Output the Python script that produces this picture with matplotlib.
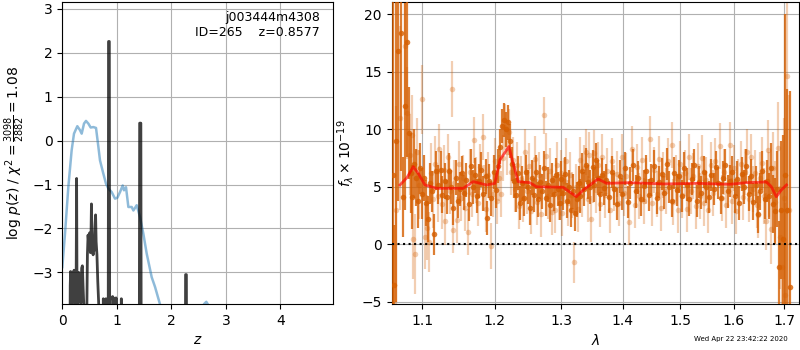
import matplotlib
matplotlib.use("Agg")
import matplotlib.pyplot as plt
from matplotlib.ticker import ScalarFormatter, NullLocator, NullFormatter, FixedLocator

# ---------------- p(z) panel data ----------------
prior_z = [0.0, 0.049, 0.110, 0.171, 0.214, 0.275, 0.324, 0.355, 0.398, 0.434, 0.477, 0.520,
           0.569, 0.618, 0.661, 0.691, 0.752, 0.801, 0.844, 0.905, 0.966, 1.009, 1.058, 1.107,
           1.131, 1.168, 1.211, 1.272, 1.303, 1.364, 1.425, 1.486, 1.547, 1.639, 1.700, 1.792,
           1.90, 2.10, 2.35, 2.50, 2.60, 2.64, 2.68, 2.75, 3.0, 4.0, 5.0]
prior_logp = [-2.88, -2.12, -1.06, -0.22, 0.16, 0.33, 0.24, 0.16, 0.39, 0.45, 0.39, 0.30,
              0.31, 0.29, -0.14, -0.45, -0.75, -0.98, -1.09, -1.17, -1.32, -1.30, -1.17, -1.02,
              -1.13, -1.06, -1.51, -1.51, -1.59, -1.47, -1.74, -2.12, -2.57, -3.11, -3.33, -3.73,
              -4.2, -4.5, -4.2, -3.95, -3.72, -3.67, -3.75, -4.0, -4.6, -5.5, -6.0]

pz_z = [0.00, 0.13, 0.145, 0.152, 0.16, 0.17, 0.18, 0.19, 0.20, 0.215, 0.228, 0.24, 0.252,
        0.262, 0.270, 0.285, 0.30, 0.31, 0.325, 0.34, 0.355, 0.368, 0.38, 0.395, 0.43,
        0.45, 0.46, 0.472, 0.485, 0.50, 0.515, 0.527, 0.534, 0.545, 0.555, 0.565, 0.575,
        0.585, 0.60, 0.61, 0.62, 0.635, 0.65, 0.67, 0.70, 0.745, 0.752, 0.758, 0.79, 0.80,
        0.808, 0.84, 0.848, 0.862, 0.87, 0.915, 0.922, 0.93, 0.94, 0.95, 0.98, 0.985, 0.992,
        1.075, 1.082, 1.09, 1.41, 1.418, 1.440, 1.448, 2.255, 2.26, 2.275, 2.28, 5.0]
pz_logp = [-8, -8, -3.3, -2.98, -3.6, -3.0, -3.7, -3.2, -3.65, -2.95, -3.7, -3.4, -3.7,
           -0.86, -3.7, -3.8, -3.0, -3.6, -3.3, -3.7, -2.9, -2.85, -3.3, -3.8, -6,
           -3.8, -2.6, -2.15, -2.35, -2.1, -2.55, -2.05, -1.44, -2.25, -2.45, -2.6, -2.2,
           -2.5, -1.95, -1.69, -2.3, -2.6, -3.2, -3.8, -6, -6, -3.6, -6, -6, -3.6,
           -6, -6, 2.26, 2.26, -6, -6, -3.55, -3.62, -3.58, -6, -6, -3.58, -6,
           -6, -3.6, -6, -6, 0.40, 0.40, -6, -6, -3.05, -3.05, -6, -6]

# ---------------- spectrum panel data ----------------
dark_lam = [1.0615, 1.0630, 1.0660, 1.0688, 1.0722, 1.0745, 1.0775, 1.0796, 1.0826, 1.0850,
            1.0869, 1.0895, 1.0920, 1.0945, 1.0970, 1.0995, 1.1020, 1.1050, 1.1080, 1.1105,
            1.1125, 1.1160, 1.1190, 1.1215, 1.1245, 1.1270, 1.1300, 1.1330, 1.1360, 1.1390,
            1.1420, 1.1450, 1.1480, 1.1510, 1.1540, 1.1570, 1.1600, 1.1630, 1.1660, 1.1690,
            1.1720, 1.1750, 1.1780, 1.1810, 1.1840, 1.1870, 1.1897, 1.1925, 1.1955, 1.1985,
            1.2015, 1.2045, 1.2075, 1.2105, 1.2135, 1.2165, 1.2195, 1.2225, 1.2255, 1.2285,
            1.2315, 1.2345, 1.2375, 1.2405, 1.2435, 1.2465, 1.2495, 1.2525, 1.2555, 1.2585,
            1.2615, 1.2645, 1.2675, 1.2705, 1.2735, 1.2765, 1.2795, 1.2825, 1.2855, 1.2885,
            1.2915, 1.2945, 1.2975, 1.3005, 1.3035, 1.3065, 1.3095, 1.3125, 1.3155, 1.3185,
            1.3215, 1.3245, 1.3275, 1.3305, 1.3335, 1.3365, 1.3395, 1.3425, 1.3455, 1.3500,
            1.3530, 1.3560, 1.3590, 1.3620, 1.3650, 1.3680, 1.3725, 1.3770, 1.3815, 1.3860,
            1.3905, 1.3950, 1.3995, 1.4040, 1.4085, 1.4130, 1.4175, 1.4220, 1.4265, 1.4310,
            1.4355, 1.4400, 1.4445, 1.4490, 1.4535, 1.4580, 1.4625, 1.4670, 1.4715, 1.4760,
            1.4805, 1.4850, 1.4895, 1.4940, 1.4985, 1.5030, 1.5075, 1.5120, 1.5165, 1.5210,
            1.5255, 1.5300, 1.5345, 1.5390, 1.5435, 1.5480, 1.5525, 1.5570, 1.5615, 1.5660,
            1.5705, 1.5750, 1.5795, 1.5840, 1.5885, 1.5930, 1.5975, 1.6020, 1.6065, 1.6110,
            1.6155, 1.6200, 1.6245, 1.6290, 1.6335, 1.6380, 1.6425, 1.6470, 1.6515, 1.6560,
            1.6605, 1.6650, 1.6695, 1.6740, 1.6780, 1.6815, 1.6850, 1.6890, 1.6930, 1.6970,
            1.7010, 1.7060, 1.7110]
dark_flux = [6.0, -3.5, 9.0, 16.8, 18.4, 4.1, 12.0, 17.6, 9.7, 6.2,
             4.1, 7.0, 5.8, 3.8, 6.6, 4.4, 5.8, 3.6, 2.2, 5.3,
             4.6, 0.87, 6.4, 5.2, 6.5, 4.3, 5.5, 4.1, 6.4, 5.0,
             3.2, 5.8, 3.8, 4.8, 6.2, 4.5, 5.6, 3.5, 6.8, 5.0,
             6.0, 4.2, 5.5, 6.5, 4.4, 5.9, 2.3, 5.5, 4.0, 6.3,
             4.7, 6.8, 8.5, 10.3, 10.8, 10.0, 10.6, 9.0, 7.0, 5.5,
             4.3, 6.2, 3.6, 5.3, 4.0, 6.3, 5.0, 3.2, 5.8, 4.3,
             6.3, 3.9, 5.4, 4.6, 6.6, 4.0, 5.2, 3.4, 5.6, 4.4,
             6.0, 4.8, 3.6, 5.7, 4.5, 6.1, 3.8, 5.0, 3.0, 4.6,
             2.7, 3.9, 5.3, 4.2, 6.4, 4.8, 6.9, 5.4, 5.0, 6.7,
             5.2, 7.3, 5.8, 4.4, 6.0, 4.9, 5.6, 4.1, 6.3, 4.8,
             3.5, 5.9, 4.4, 6.6, 3.7, 5.3, 6.9, 4.6, 5.8, 3.9,
             5.1, 6.4, 4.3, 5.6, 6.8, 4.0, 5.4, 6.1, 4.5, 7.0,
             5.0, 3.8, 6.2, 4.7, 5.9, 4.2, 6.6, 5.2, 3.9, 5.7,
             6.9, 3.8, 5.4, 4.5, 6.3, 5.0, 4.1, 6.0, 4.8, 6.7,
             5.3, 4.0, 5.8, 6.9, 4.6, 5.5, 6.3, 4.2, 5.7, 3.6,
             6.1, 5.0, 6.8, 4.4, 5.9, 3.7, 5.2, 2.6, 4.6, 6.4,
             3.9, 5.5, 4.2, 6.6, 3.5, 2.9, 4.8, -1.95, 3.0, 0.5,
             6.0, 3.0, -3.7]
dark_err = [25, 5.2, 14, 13, 12, 3.5, 9, 10, 4, 3.5,
            2.8, 3.0, 2.5, 2.4, 2.2, 2.2, 2.0, 2.0, 2.0, 1.8,
            1.8, 1.8, 1.7, 1.7, 1.6, 1.6, 1.6, 1.5, 1.5, 1.5,
            1.5, 1.5, 1.5, 1.5, 1.5, 1.5, 1.5, 1.5, 1.5, 1.5,
            1.5, 1.5, 1.5, 1.5, 1.5, 1.5, 1.5, 1.5, 1.5, 1.5,
            1.5, 1.5, 1.5, 1.5, 1.5, 1.5, 1.5, 1.5, 1.5, 1.5,
            1.5, 1.5, 1.5, 1.5, 1.5, 1.5, 1.5, 1.5, 1.5, 1.5,
            1.5, 1.5, 1.5, 1.5, 1.5, 1.5, 1.5, 1.5, 1.5, 1.5,
            1.5, 1.5, 1.5, 1.5, 1.5, 1.5, 1.5, 1.5, 1.5, 1.5,
            1.5, 1.5, 1.5, 1.5, 1.5, 1.5, 1.5, 1.5, 1.5, 1.5,
            1.5, 1.5, 1.5, 1.5, 1.5, 1.5, 1.4, 1.4, 1.4, 1.4,
            1.4, 1.4, 1.4, 1.4, 1.4, 1.4, 1.4, 1.4, 1.4, 1.4,
            1.4, 1.4, 1.4, 1.4, 1.4, 1.4, 1.4, 1.4, 1.4, 1.4,
            1.4, 1.4, 1.4, 1.4, 1.4, 1.4, 1.4, 1.4, 1.4, 1.4,
            1.4, 1.4, 1.4, 1.4, 1.4, 1.4, 1.4, 1.4, 1.4, 1.4,
            1.4, 1.4, 1.4, 1.4, 1.4, 1.4, 1.4, 1.5, 1.5, 1.5,
            1.5, 1.5, 1.5, 1.5, 1.5, 1.6, 1.6, 1.6, 1.6, 1.7,
            1.7, 1.8, 2.0, 2.2, 2.5, 2.9, 3.3, 4.0, 6.0, 9.0,
            14, 10.5, 17]

light_lam = [1.0655, 1.0705, 1.0775, 1.0800, 1.0835, 1.0860, 1.0880, 1.0910, 1.0930, 1.0960,
             1.1000, 1.1035, 1.1060, 1.1090, 1.1115, 1.1140, 1.1175, 1.1205, 1.1230, 1.1260,
             1.1285, 1.1305, 1.1345, 1.1375, 1.1404, 1.1420, 1.1435, 1.1465, 1.1495, 1.1525,
             1.1555, 1.1585, 1.1625, 1.1645, 1.1675, 1.1705, 1.1735, 1.1765, 1.1795, 1.1830,
             1.1855, 1.1880, 1.1910, 1.1947, 1.1970, 1.2000, 1.2030, 1.2060, 1.2090, 1.2120,
             1.2150, 1.2180, 1.2210, 1.2240, 1.2270, 1.2300, 1.2330, 1.2360, 1.2390, 1.2420,
             1.2450, 1.2480, 1.2510, 1.2540, 1.2570, 1.2600, 1.2630, 1.2660, 1.2690, 1.2737,
             1.2770, 1.2800, 1.2830, 1.2860, 1.2900, 1.2930, 1.2960, 1.2990, 1.3020, 1.3050,
             1.3080, 1.3110, 1.3140, 1.3170, 1.3206, 1.3240, 1.3270, 1.3300, 1.3330, 1.3360,
             1.3400, 1.3430, 1.3450, 1.3470, 1.3500, 1.3530, 1.3560, 1.3590, 1.3620, 1.3660,
             1.3700, 1.3740, 1.3780, 1.3820, 1.3860, 1.3900, 1.3940, 1.3980, 1.4020, 1.4060,
             1.4110, 1.4160, 1.4200, 1.4240, 1.4280, 1.4320, 1.4360, 1.4400, 1.4460, 1.4500,
             1.4540, 1.4580, 1.4620, 1.4660, 1.4700, 1.4740, 1.4780, 1.4846, 1.4880, 1.4920,
             1.4960, 1.5000, 1.5040, 1.5080, 1.5120, 1.5160, 1.5200, 1.5240, 1.5280, 1.5320,
             1.5360, 1.5400, 1.5440, 1.5480, 1.5520, 1.5560, 1.5600, 1.5650, 1.5730, 1.5770,
             1.5810, 1.5850, 1.5930, 1.5970, 1.6010, 1.6050, 1.6090, 1.6130, 1.6170, 1.6210,
             1.6250, 1.6290, 1.6330, 1.6370, 1.6410, 1.6450, 1.6480, 1.6520, 1.6560, 1.6600,
             1.6640, 1.6670, 1.6700, 1.6740, 1.6775, 1.6820, 1.6875, 1.6910, 1.6950, 1.6990,
             1.7025, 1.7058, 1.7090]
light_flux = [3.0, 11.0, 17.2, 11.4, 7.8, 9.5, 0.5, -0.85, 8.0, 5.2,
              12.6, 0.67, 1.45, 0.2, 6.2, 3.9, 7.0, 4.2, 8.3, 3.5,
              6.5, 2.0, 7.6, 4.6, 13.5, 1.25, 5.3, 2.1, 7.0, 4.0,
              5.8, 3.2, 1.04, 6.3, 4.4, 9.1, 5.6, 3.6, 6.7, 9.3,
              4.9, 3.1, 6.0, -0.15, 4.4, 7.2, 3.8, 5.8, 4.4, 7.5,
              10.2, 8.0, 9.8, 6.3, 7.3, 4.8, 6.9, 3.3, 5.7, 3.9,
              8.05, 4.6, 6.8, 2.9, 5.2, 7.4, 3.7, 6.0, 2.6, 11.2,
              7.7, 4.2, 6.4, 2.8, 3.0, 6.9, 4.1, 6.2, 2.7, 5.5,
              7.2, 3.6, 6.0, 4.3, -1.57, 5.0, 3.1, 7.3, 4.4, 6.6,
              8.05, 3.9, 7.8, 2.2, 5.6, 7.9, 4.7, 6.9, 3.5, 7.6,
              4.3, 6.4, 3.0, 7.2, 4.9, 6.1, 3.6, 7.6, 4.5, 5.9,
              1.9, 8.26, 3.4, 6.7, 4.2, 7.3, 3.8, 5.5, 9.13, 3.6,
              6.5, 4.4, 7.4, 3.2, 6.0, 4.6, 7.2, 8.6, 3.7, 5.8,
              3.0, 7.0, 4.3, 6.2, 3.1, 7.6, 4.6, 5.9, 3.3, 6.8,
              4.2, 7.5, 3.6, 5.6, 3.0, 6.9, 4.5, 7.2, 8.55, 4.0,
              6.3, 3.4, 8.64, 3.8, 6.6, 2.9, 5.4, 7.0, 4.1, 6.3,
              8.0, 3.9, 7.6, 4.8, 6.2, 3.4, 2.55, 5.8, 7.1, 4.2,
              2.0, 8.2, 5.2, 1.3, 6.6, 3.7, 8.35, 0.6, -2.0, 4.0,
              -4.4, 14.6, 3.0]
light_err = [9, 8, 6, 4, 3.5, 3.5, 3.5, 3.5, 3.0, 3.0,
             3.0, 2.8, 2.8, 2.6, 2.6, 2.5, 2.4, 2.3, 2.2, 2.2,
             2.1, 2.1, 2.0, 2.0, 2.4, 2.0, 2.0, 2.0, 2.0, 2.0,
             2.0, 2.0, 2.0, 2.0, 2.0, 2.0, 2.0, 2.0, 2.0, 2.0,
             2.0, 2.0, 2.0, 2.0, 2.0, 2.0, 2.0, 2.0, 2.0, 2.0,
             2.0, 2.0, 2.0, 2.0, 2.0, 2.0, 2.0, 2.0, 2.0, 2.0,
             2.0, 2.0, 2.0, 2.0, 2.0, 2.0, 2.0, 2.0, 2.0, 1.6,
             2.0, 2.0, 2.0, 2.0, 2.0, 2.0, 2.0, 2.0, 2.0, 2.0,
             2.0, 2.0, 2.0, 2.0, 1.8, 2.0, 2.0, 2.0, 2.0, 2.0,
             2.0, 2.0, 2.0, 2.0, 2.0, 2.0, 2.0, 2.0, 2.0, 2.0,
             2.0, 2.0, 2.0, 2.0, 2.0, 2.0, 2.0, 2.0, 2.0, 2.0,
             2.0, 2.0, 2.0, 2.0, 2.0, 2.0, 2.0, 2.0, 2.0, 2.0,
             2.0, 2.0, 2.0, 2.0, 2.0, 2.0, 2.0, 2.0, 2.0, 2.0,
             2.0, 2.0, 2.0, 2.0, 2.0, 2.0, 2.0, 2.0, 2.0, 2.0,
             2.0, 2.0, 2.0, 2.0, 2.0, 2.0, 2.0, 2.0, 2.0, 2.0,
             2.0, 2.0, 2.0, 2.0, 2.0, 2.0, 2.0, 2.0, 2.0, 2.0,
             2.0, 2.0, 2.0, 2.0, 2.0, 2.0, 2.0, 2.2, 2.2, 2.4,
             2.5, 2.6, 2.8, 3.0, 3.2, 3.5, 4.0, 4.5, 5.0, 7.0,
             8.0, 12.0, 10.0]

model_lam = [1.0710, 1.0800, 1.0882, 1.0947, 1.1036, 1.1192, 1.1556, 1.1696, 1.1885, 1.2004,
             1.2077, 1.2208, 1.2270, 1.2345, 1.2520, 1.2620, 1.3030, 1.3240, 1.3350, 1.3590,
             1.3730, 1.4120, 1.4697, 1.5300, 1.5920, 1.6245, 1.6640, 1.6740, 1.6840, 1.6940,
             1.7046]
model_flux = [5.16, 5.8, 6.75, 6.17, 5.16, 4.87, 4.87, 5.45, 5.16, 5.30,
              7.33, 8.50, 7.04, 5.45, 5.36, 5.00, 4.96, 4.14, 4.72, 5.68,
              5.30, 5.36, 5.25, 5.30, 5.22, 5.36, 5.42, 5.00, 4.14, 4.72,
              5.16]

chi2_num = 3098
chi2_den = 2882
chi2_red = 1.08
title_lines = "j003444m4308\nID=265    z=0.8577"
stamp = "Wed Apr 22 23:42:22 2020"
lam_ticks = [1.1, 1.2, 1.3, 1.4, 1.5, 1.6, 1.7]

G141 = (0.8352941176470589, 0.3686274509803922, 0.0)

fig = plt.figure(figsize=(8, 3.5), dpi=100)
ax1 = fig.add_axes([0.0779, 0.1314, 0.3388, 0.8643])
ax2 = fig.add_axes([0.4896, 0.1314, 0.5095, 0.8643])

# left panel
ax1.plot(prior_z, prior_logp, color='#1f77b4', alpha=0.5, lw=1.8)
ax1.plot(pz_z, pz_logp, color='k', alpha=0.75, lw=2)
ax1.set_xlim(0, 4.97)
ax1.set_ylim(-3.72, 3.17)
ax1.grid(True)
ax1.set_xlabel('$z$')
ax1.set_ylabel(r'log $p(z)$' + ' / ' +
               r'$\chi^2=\frac{%d}{%d}=%.2f$' % (chi2_num, chi2_den, chi2_red))
ax1.text(0.95, 0.97, title_lines, ha='right', va='top', transform=ax1.transAxes,
         fontsize=9, linespacing=1.2)

# right panel
ax2.errorbar(light_lam, light_flux, yerr=light_err, color=G141, alpha=0.3,
             marker='o', ms=4.0, mew=0, linestyle='none', elinewidth=1.6, zorder=2)
ax2.errorbar(dark_lam, dark_flux, yerr=dark_err, color=G141, alpha=0.8,
             marker='o', ms=4.0, mew=0, linestyle='none', elinewidth=1.6, zorder=3)
ax2.plot(model_lam, model_flux, color='r', alpha=0.65, lw=2, zorder=5)
ax2.axhline(0, color='k', linestyle=':', lw=1.5, zorder=4)
ax2.set_xscale('log')
ax2.xaxis.set_major_locator(FixedLocator(lam_ticks))
ax2.xaxis.set_major_formatter(ScalarFormatter())
ax2.xaxis.set_minor_locator(NullLocator())
ax2.xaxis.set_minor_formatter(NullFormatter())
ax2.set_xlim(1.0603, 1.7311)
ax2.set_ylim(-5.19, 21.11)
ax2.grid(True)
ax2.set_xlabel(r'$\lambda$')
ax2.set_ylabel(r'$f_\lambda\times10^{-19}$')

fig.text(0.985, 0.031, stamp, ha='right', va='center', fontsize=5)

fig.savefig('out.png', dpi=100)
